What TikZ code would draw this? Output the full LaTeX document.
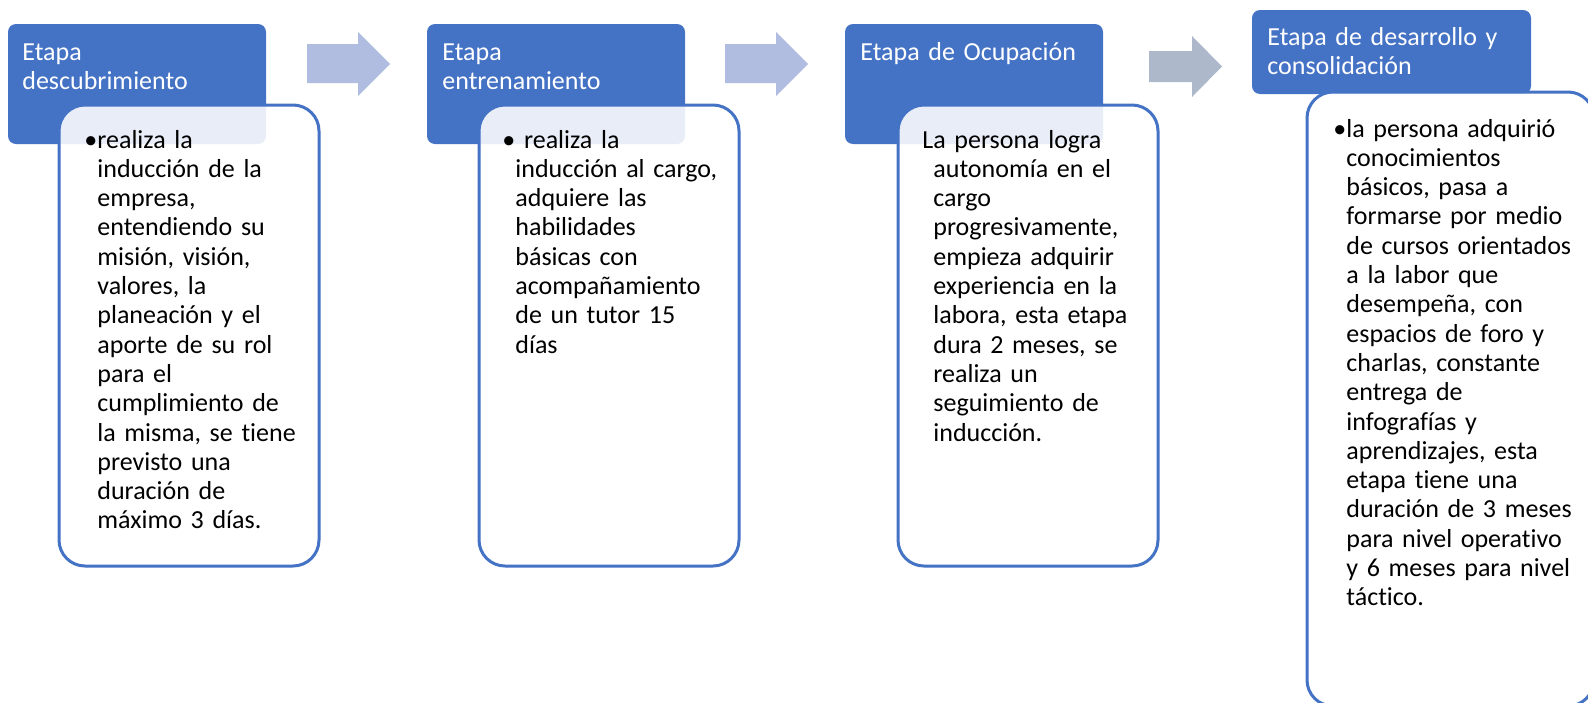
\documentclass[tikz,border=0pt]{standalone}
\usepackage{fontspec}
\setmainfont{Carlito}[Ligatures=CommonOff]
\usepackage{xcolor}
\definecolor{hdrblue}{HTML}{4472C4}
\definecolor{arrowblue}{HTML}{B0BDE0}
\definecolor{arrowgray}{HTML}{ADB9CA}

\begin{document}
\begin{tikzpicture}[x=0.5pt,y=-0.5pt,
 header/.style={fill=hdrblue,rounded corners=4pt},
 detail/.style={draw=hdrblue,line width=1.5pt,fill=white,fill opacity=0.88,rounded corners=13pt},
 htext/.style={anchor=base west,inner sep=0,text=white,text width=160pt,align=left,font=\fontsize{13}{14.65}\selectfont},
 dtext/.style={anchor=base west,inner sep=0,text=black,text width=160pt,align=left,font=\fontsize{13}{14.65}\selectfont}]
\useasboundingbox (0,0) rectangle (1588,702);
\clip (0,0) rectangle (1588,702);
% arrows between the stages
\foreach \ax in {307,725}
 \fill[arrowblue] (\ax,44) -- (\ax+51,44) -- (\ax+51,32) -- (\ax+83,64) -- (\ax+51,96) -- (\ax+51,83) -- (\ax,83) -- cycle;
\fill[arrowgray] (1149,51) -- (1192,51) -- (1192,36) -- (1222,66.5) -- (1192,97) -- (1192,82) -- (1149,82) -- cycle;
% stages 1-3
\foreach \hx/\dx in {8/59,427/479,845/898} {
 \fill[header] (\hx,24) rectangle (\hx+258,144);
 \draw[detail] (\dx,105) rectangle (\dx+260,566);
}
% stage 4
\fill[header] (1252,10) rectangle (1531,94);
\draw[detail] (1307,92) rectangle (1594,706);

\node[htext] (etapa1) at (22,60) {Etapa\\descubrimiento};
\node[htext] (etapa2) at (442,60) {Etapa\\entrenamiento};
\node[htext] (etapa3) at (860,60) {Etapa de Ocupación};
\node[htext] (etapa4) at (1267,45) {Etapa de desarrollo y\\consolidación};

\node[dtext] (desc1) at (97,148) {\leavevmode\llap{\textbullet}realiza la\\inducción de la\\empresa,\\entendiendo su\\misión, visión,\\valores, la\\planeación y el\\aporte de su rol\\para el\\cumplimiento de\\la misma, se tiene\\previsto una\\duración de\\máximo 3 días.};
\node[dtext] (desc2) at (515,148) {\leavevmode\llap{\textbullet}\ realiza la\\inducción al cargo,\\adquiere las\\habilidades\\básicas con\\acompañamiento\\de un tutor 15\\días};
\node[dtext] (desc3) at (933,148) {\hspace*{-5.5pt}La persona logra\\autonomía en el\\cargo\\progresivamente,\\empieza adquirir\\experiencia en la\\labora, esta etapa\\dura 2 meses, se\\realiza un\\seguimiento de\\inducción.};
\node[dtext] (desc4) at (1346,137) {\leavevmode\llap{\textbullet}la persona adquirió\\conocimientos\\básicos, pasa a\\formarse por medio\\de cursos orientados\\a la labor que\\desempeña, con\\espacios de foro y\\charlas, constante\\entrega de\\infografías y\\aprendizajes, esta\\etapa tiene una\\duración de 3 meses\\para nivel operativo\\y 6 meses para nivel\\táctico.};
\end{tikzpicture}
\end{document}
